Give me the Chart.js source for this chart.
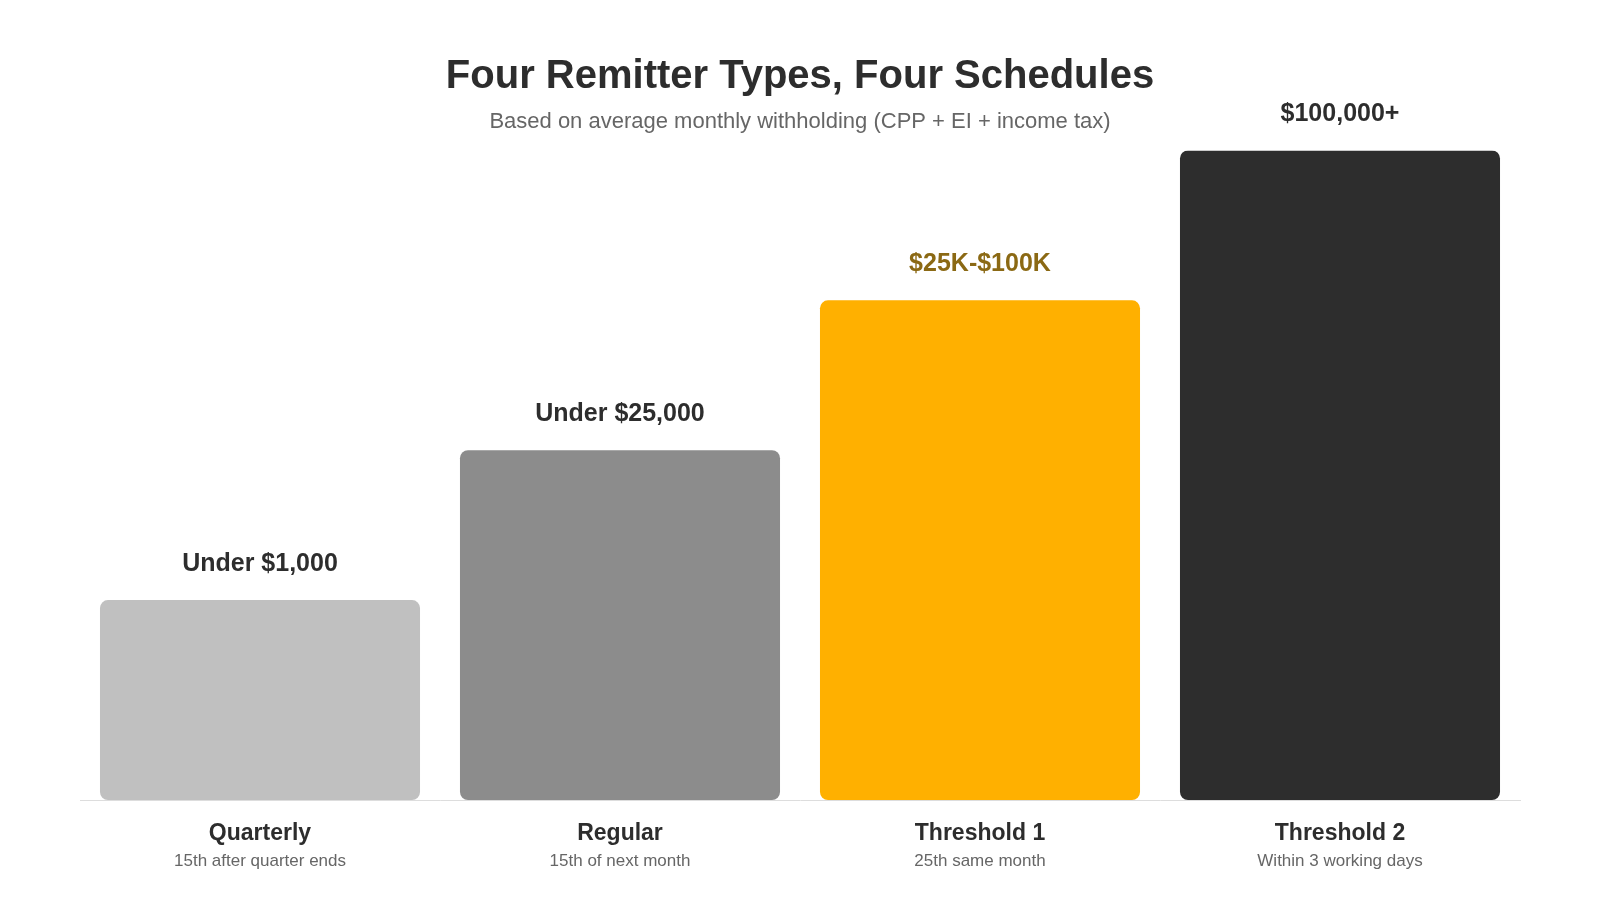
<!DOCTYPE html>
<html>
<head>
<meta charset="utf-8">
<script src="https://cdn.jsdelivr.net/npm/chart.js@4"></script>
<style>
  html, body { margin: 0; padding: 0; background: #ffffff; }
  #wrap { width: 1600px; height: 900px; position: relative; }
</style>
</head>
<body>
<div id="wrap"><canvas id="c" width="1600" height="900"></canvas></div>
<script>
const categories = ["Quarterly", "Regular", "Threshold 1", "Threshold 2"];
const schedules = ["15th after quarter ends", "15th of next month", "25th same month", "Within 3 working days"];
const thresholdLabels = ["Under $1,000", "Under $25,000", "$25K-$100K", "$100,000+"];
const tierValues = [4, 7, 10, 13];
const barColors = ["#c0c0c0", "#8c8c8c", "#ffb000", "#2d2d2d"];
const labelColors = ["#2d2d2d", "#2d2d2d", "#8b6914", "#2d2d2d"];

const FONT = "'Liberation Sans', Arial, Helvetica, sans-serif";

const labelPlugin = {
  id: 'labelPlugin',
  afterDraw(chart) {
    const ctx = chart.ctx;
    const meta = chart.getDatasetMeta(0);
    const xScale = chart.scales.x;
    ctx.save();
    ctx.textAlign = 'center';
    ctx.textBaseline = 'middle';
    meta.data.forEach((bar, i) => {
      ctx.font = "bold 25px " + FONT;
      ctx.fillStyle = labelColors[i];
      ctx.fillText(thresholdLabels[i], bar.x, bar.y - 36.5);
      const cx = xScale.getPixelForValue(i);
      ctx.font = "bold 23px " + FONT;
      ctx.fillStyle = "#2d2d2d";
      ctx.fillText(categories[i], cx, 834);
      ctx.font = "17px " + FONT;
      ctx.fillStyle = "#666666";
      ctx.fillText(schedules[i], cx, 861.5);
    });
    ctx.restore();
  }
};

new Chart(document.getElementById('c'), {
  type: 'bar',
  data: {
    labels: categories,
    datasets: [{
      data: tierValues,
      backgroundColor: barColors,
      borderRadius: 8,
      borderSkipped: false,
      categoryPercentage: 1.0,
      barPercentage: 0.889
    }]
  },
  options: {
    responsive: false,
    animation: false,
    devicePixelRatio: 1,
    layout: { padding: { left: 80, right: 80, top: 0, bottom: 92 } },
    plugins: {
      legend: { display: false },
      tooltip: { enabled: false },
      title: {
        display: true,
        text: "Four Remitter Types, Four Schedules",
        color: "#2d2d2d",
        font: { family: FONT, size: 40, weight: 'bold' },
        padding: { top: 53, bottom: 0 }
      },
      subtitle: {
        display: true,
        text: "Based on average monthly withholding (CPP + EI + income tax)",
        color: "#666666",
        font: { family: FONT, size: 22 },
        padding: { top: 8, bottom: 15 }
      }
    },
    scales: {
      x: {
        grid: { display: false },
        border: { display: true, color: "#dddddd", width: 1 },
        ticks: { display: false }
      },
      y: {
        display: false,
        min: 0,
        max: 13
      }
    }
  },
  plugins: [labelPlugin]
});
</script>
</body>
</html>
